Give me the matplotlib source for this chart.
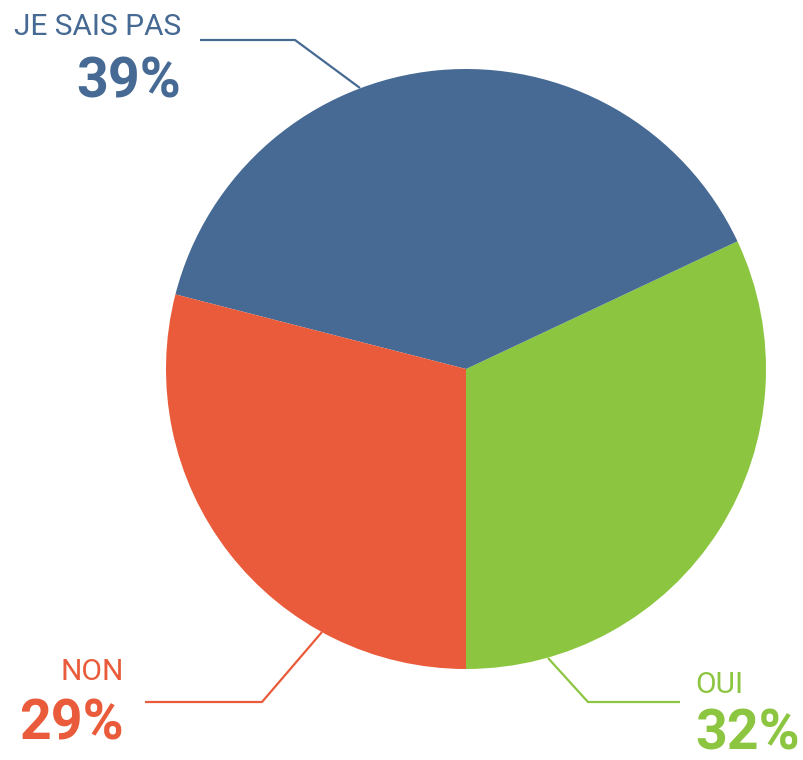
import matplotlib
matplotlib.use("Agg")
from matplotlib import pyplot as plt

labels = ["OUI", "JE SAIS PAS", "NON"]
values = [32, 39, 29]
colors = ["#8CC540", "#466A93", "#E95B3A"]

fig = plt.figure(figsize=(8.04, 7.6), dpi=100)
ax = fig.add_axes([0, 0, 1, 1])

# pie in pixel coords (y axis points down, so counterclock=False gives ccw on screen)
ax.pie(values, colors=colors, startangle=90, counterclock=False,
       center=(466, 369), radius=300, frame=True,
       wedgeprops=dict(linewidth=0))
ax.set_xlim(0, 804)
ax.set_ylim(760, 0)
ax.set_aspect("equal")
ax.axis("off")

# leader line points, text x, label baseline, percent baseline, alignment
leaders = {
    "OUI": ([548, 588, 680], [658, 702, 702], 695, 693, 749, "left"),
    "JE SAIS PAS": ([360, 295, 200], [88, 40, 40], 181, 35, 97, "right"),
    "NON": ([322, 262, 145], [632, 702, 702], 124, 680, 740, "right"),
}

for lab, val, col in zip(labels, values, colors):
    xs, ys, tx, ty1, ty2, ha = leaders[lab]
    ax.plot(xs, ys, color=col, lw=1.6, solid_capstyle="butt")
    ax.text(tx, ty1, lab, color=col, fontsize=21.5, ha=ha, va="baseline",
            family="Roboto")
    ax.text(tx, ty2, f"{val}%", color=col, fontsize=40, ha=ha, va="baseline",
            family="Roboto", fontweight="bold")

fig.savefig("out.png", dpi=100)
